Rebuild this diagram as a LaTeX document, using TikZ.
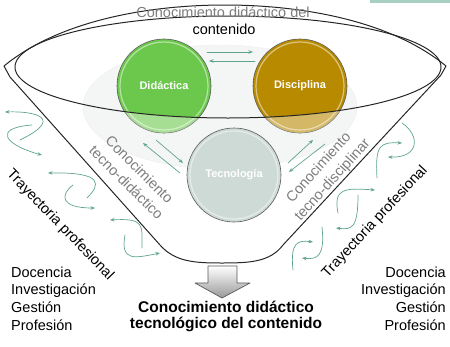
\documentclass[tikz,border=0pt]{standalone}
\usepackage{fontspec}
\setmainfont{Liberation Sans}
\usetikzlibrary{arrows.meta}
\definecolor{didgreen}{RGB}{108,200,76}
\definecolor{disgold}{RGB}{184,138,0}
\definecolor{tecgray}{RGB}{206,218,214}
\definecolor{flowteal}{RGB}{95,165,140}
\definecolor{haze}{RGB}{244,246,245}
\definecolor{topbar}{RGB}{168,208,192}
\definecolor{labelgray}{RGB}{125,125,125}
\tikzset{
  ball/.style={circle, minimum size=94pt, inner sep=0pt, draw=gray!70!black, line width=0.6pt,
    text=white, font=\fontsize{11}{13}\selectfont\bfseries},
  flow/.style={flowteal, line width=0.7pt, -{Stealth[length=4.5pt,width=3.5pt]}},
  rim/.style={line width=1pt, black!85},
  graytext/.style={text=labelgray, font=\fontsize{14.5}{18.5}\selectfont, inner sep=0pt},
  blacktext/.style={font=\fontsize{14.5}{17.7}\selectfont, inner sep=0pt},
}
\begin{document}
\begin{tikzpicture}[line cap=round,line join=round,x=1pt,y=-1pt]
  \useasboundingbox (0,0) rectangle (450,346);
  \fill[topbar] (370,0) rectangle (450,3);
  % halo behind the three fields
  \draw[black!7, fill=haze] (220,107) ellipse[x radius=137pt, y radius=62pt];
  \node[ball, fill=didgreen] (did) at (164,86) {Didáctica};
  \node[ball, fill=disgold] (dis) at (300,86) {Disciplina};
  \node[ball, fill=tecgray] (tec) at (234,175) {Tecnología};
  \foreach \c in {did,dis,tec}
    \draw[white, opacity=.5, line width=1.2pt] (\c.center) circle[radius=44pt];
  \foreach \c in {did,dis}{
    \begin{scope}
      \clip (\c.center) circle[radius=47pt];
      \fill[white, opacity=.4, even odd rule] (100,0) rectangle (360,200)
        (228,67) ellipse[x radius=213pt, y radius=51pt];
    \end{scope}
  }
  % funnel
  \draw[rim] (228,67) ellipse[x radius=213pt, y radius=51pt];
  \draw[rim] (4,66) .. controls (60,20) and (150,5) .. (225,5)
    .. controls (300,5) and (390,20) .. (446,66) -- (441,75) -- (283,245)
    .. controls (270,262) and (250,263) .. (222,263)
    .. controls (195,263) and (175,262) .. (160,245) -- (10,77) -- cycle;
  \shade[top color=white, bottom color=black!40, draw=black!65, line width=0.7pt]
    (208,266) -- (237,266) -- (237,283) -- (250,283) -- (222,298) -- (195,283) -- (208,283) -- cycle;
  % arrows between the fields
  \coordinate (dd1) at (207,52);  \coordinate (dd2) at (253,52);
  \coordinate (dd3) at (255,61);  \coordinate (dd4) at (209,61);
  \coordinate (dt1) at (180,173); \coordinate (dt2) at (143,143);
  \coordinate (dt3) at (156,140); \coordinate (dt4) at (183,163);
  \coordinate (st1) at (288,163); \coordinate (st2) at (313,140);
  \coordinate (st3) at (325,144); \coordinate (st4) at (289,172);
  \draw[flow] (dd1) -- (dd2);
  \draw[flow] (dd3) -- (dd4);
  \draw[flow] (dt1) -- (dt2);
  \draw[flow] (dt3) -- (dt4);
  \draw[flow] (st1) -- (st2);
  \draw[flow] (st3) -- (st4);
  % career paths, left
  \draw[flow] (20,140) .. controls (65,118) and (35,111) .. (5,112);
  \draw[flow] (32,125) .. controls (-8,128) and (5,145) .. (42,155);
  \draw[flow] (87,198) .. controls (100,185) and (105,172) .. (48,173);
  \draw[flow] (73,185) .. controls (60,195) and (60,208) .. (95,208);
  \draw[flow] (142,248) .. controls (142,225) and (145,218) .. (110,220);
  \draw[flow] (125,235) .. controls (120,262) and (135,258) .. (160,253);
  % career paths, right
  \draw[flow] (377,178) .. controls (375,145) and (380,142) .. (402,143);
  \draw[flow] (402,123) .. controls (420,135) and (420,158) .. (388,157);
  \draw[flow] (338,213) .. controls (333,188) and (345,188) .. (375,190);
  \draw[flow] (358,195) .. controls (358,228) and (352,230) .. (336,228);
  \draw[flow] (293,270) .. controls (290,242) and (298,240) .. (313,242);
  \draw[flow] (322,227) .. controls (325,255) and (318,260) .. (302,258);
  % labels
  \node[graytext] (cdtop) at (223,12) {Conocimiento didáctico del};
  \node[blacktext] (cdcont) at (224,29) {contenido};
  \node[graytext, align=center, rotate=-45] (ctdid) at (133,176) {Conocimiento\\tecno-didáctico};
  \node[graytext, align=center, rotate=48] (ctdis) at (326,174) {Conocimiento\\tecno-disciplinar};
  \node[blacktext, rotate=-46] (trayL) at (60,225) {Trayectoria profesional};
  \node[blacktext, rotate=47] (trayR) at (375,222) {Trayectoria profesional};
  \node[blacktext, align=left, anchor=west] (listL) at (11,298.5) {Docencia\\Investigación\\Gestión\\Profesión};
  \node[blacktext, align=right, anchor=east] (listR) at (446,298.5) {Docencia\\Investigación\\Gestión\\Profesión};
  \node[font=\fontsize{15.5}{16}\selectfont\bfseries, align=center, inner sep=0pt] (cdtc) at (226,316)
    {Conocimiento didáctico\\tecnológico del contenido};
\end{tikzpicture}
\end{document}
